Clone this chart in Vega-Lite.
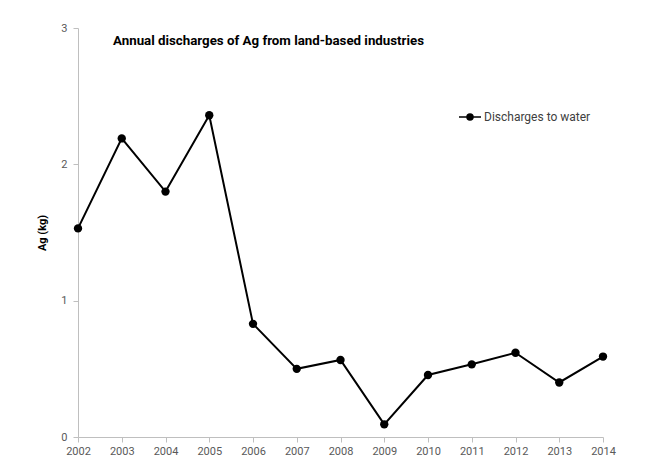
{
  "$schema": "https://vega.github.io/schema/vega-lite/v6.json",
  "autosize": "none",
  "width": 525,
  "height": 409,
  "padding": {"left": 78, "top": 28, "right": 44, "bottom": 24},
  "background": "white",
  "title": {
    "text": "Annual discharges of Ag from land-based industries",
    "anchor": "start",
    "frame": "group",
    "dx": 35,
    "offset": -25,
    "font": "Roboto",
    "fontSize": 13.3,
    "fontWeight": "bold",
    "color": "#000000"
  },
  "data": {
    "values": [
      {"year": 2002, "value": 1.53, "series": "Discharges to water"},
      {"year": 2003, "value": 2.19, "series": "Discharges to water"},
      {"year": 2004, "value": 1.80, "series": "Discharges to water"},
      {"year": 2005, "value": 2.36, "series": "Discharges to water"},
      {"year": 2006, "value": 0.83, "series": "Discharges to water"},
      {"year": 2007, "value": 0.50, "series": "Discharges to water"},
      {"year": 2008, "value": 0.565, "series": "Discharges to water"},
      {"year": 2009, "value": 0.093, "series": "Discharges to water"},
      {"year": 2010, "value": 0.455, "series": "Discharges to water"},
      {"year": 2011, "value": 0.533, "series": "Discharges to water"},
      {"year": 2012, "value": 0.618, "series": "Discharges to water"},
      {"year": 2013, "value": 0.40, "series": "Discharges to water"},
      {"year": 2014, "value": 0.59, "series": "Discharges to water"}
    ]
  },
  "config": {
    "view": {"stroke": null},
    "axis": {
      "domainColor": "#bfbfbf",
      "tickColor": "#bfbfbf",
      "labelColor": "#595959",
      "labelFont": "Roboto",
      "labelFontSize": 11,
      "labelFlush": false,
      "grid": false,
      "tickSize": 5
    }
  },
  "mark": {"type": "line", "color": "black", "strokeWidth": 2, "point": {"filled": true, "size": 70, "color": "black"}},
  "encoding": {
    "x": {
      "field": "year",
      "type": "quantitative",
      "scale": {"domain": [2002, 2014], "nice": false, "zero": false},
      "axis": {"values": [2002,2003,2004,2005,2006,2007,2008,2009,2010,2011,2012,2013,2014], "format": "d", "title": null, "labelPadding": 3}
    },
    "y": {
      "field": "value",
      "type": "quantitative",
      "scale": {"domain": [0, 3], "nice": false},
      "axis": {"values": [0,1,2,3], "title": "Ag (kg)", "titleFont": "Roboto", "titleFontSize": 11, "titleFontWeight": "bold", "titleColor": "#000000", "titlePadding": 13, "labelPadding": 6}
    },
    "color": {
      "field": "series",
      "type": "nominal",
      "scale": {"range": ["black"]},
      "legend": {
        "title": null,
        "orient": "none",
        "legendX": 386,
        "legendY": 83,
        "symbolType": "M -2.2 0 L 2.2 0 M -0.6 0 A 0.6 0.6 0 1 1 0.6 0 A 0.6 0.6 0 1 1 -0.6 0 Z",
        "symbolSize": 100,
        "symbolFillColor": "black",
        "symbolStrokeColor": "black",
        "symbolStrokeWidth": 1.5,
        "labelFont": "Roboto",
        "labelFontSize": 12,
        "labelColor": "#404040",
        "labelOffset": 8
      }
    }
  }
}
